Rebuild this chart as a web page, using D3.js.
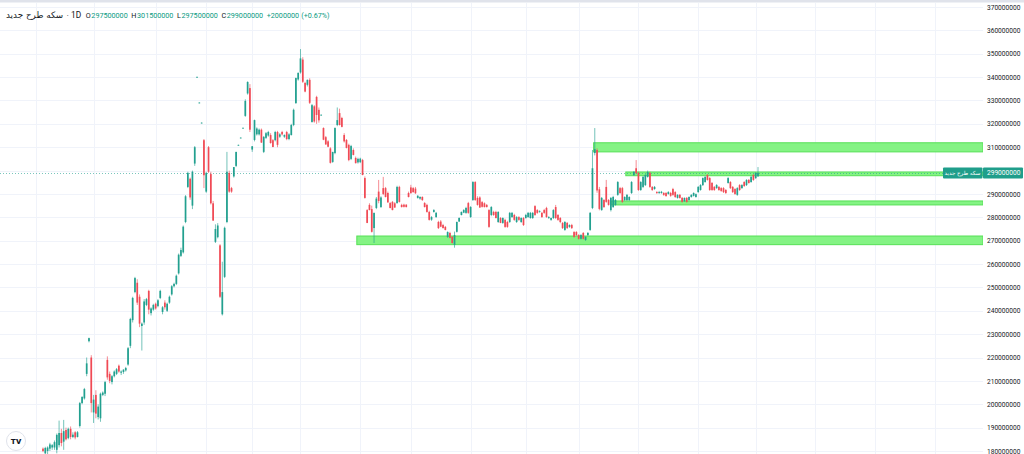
<!DOCTYPE html>
<html><head><meta charset="utf-8">
<script src="https://cdn.jsdelivr.net/npm/d3@7"></script>
<style>
body{margin:0;background:#fff;overflow:hidden}
svg{display:block;font-family:Roboto,"DejaVu Sans",sans-serif}
</style>
</head><body>
<svg id="c" width="1024" height="454"></svg>
<script>
// ---------- data (prices in millions) ----------
const symbolName = "سکه طرح جدید";
const interval = "1D";
const lastBar = {o:"297500000", h:"301500000", l:"297500000", c:"299000000", chg:"+2000000", pct:"(+0.67%)"};

const open = [181,179,180,181,181.5,181.5,180.5,182.5,187.7,184,189,185.5,189.5,186,188,186,190.7,200.5,202.5,213,227,220,196.5,204,194.5,194,204,204.5,219,213,209.5,212,213,216.5,213.5,213.8,214.5,217,225,236,248,252,246,233.5,235,242.5,248.5,239,240.5,243,242,245.5,239.5,243.5,240,243.5,247,250.5,251.5,256,263.5,265,278,293,296.5,285,303,340,329,320.4,313,291,310,298.5,286,269.5,271.5,268,238.5,254.5,278,299,292.5,297.5,302,310.9,314,318.2,323.4,333,335.3,309,313.1,315.5,315.5,317.5,308,314,315,315.2,313,313,316.5,314.5,316.5,314.5,316.5,313.5,315.2,319.5,328.9,339,342,347.5,337.5,336.7,338.8,320.8,327.5,331.5,326,323.8,318.2,314.3,312.5,309.5,303.7,307.5,319.5,324.6,322.5,315.2,313.1,311,305,308.8,305.4,303.5,303.6,304.5,296.8,283.1,285.3,283.5,275.4,284,291,284.4,292.5,292.5,290.4,286.1,286.6,286,286.1,293,285.3,285.4,285.4,290.4,292.8,292.5,292.3,288.3,288,288.7,286.1,285.3,282.3,279,282.3,280.1,278,278.2,276.7,275.9,271.6,273.3,271.6,268.2,273.8,278.2,281,282,281.9,286.1,280.1,287.4,295.1,288.3,288.5,286.5,286,285.3,283.1,281,282.3,282.3,278,279.7,277.6,278.9,278,278,280.1,281,278,280.1,278,279.7,279.7,280.1,279.7,279.7,284.8,283.1,282.3,281.9,283.1,284,279.7,278.9,279.7,284.4,281,279.7,277.6,274.6,277.6,275.9,276.7,273.7,273.7,272.4,270.8,273.3,270.3,272.4,274.6,284,307.5,308.8,292,283.1,287.4,293,287.4,283.1,284.4,285.3,289.6,292.5,292.5,287.4,287.4,287.4,290.4,298.1,301,299,291.7,293,293.8,297.3,299,293,292.1,290.8,290.4,290.4,290.4,290.4,290,290.4,292.1,290.8,288.3,289.6,288.3,286.9,288.3,287.4,288.7,289.2,288.7,290.8,291.7,293.8,295.1,298.1,296.8,294.7,293,292.5,293,292.5,292.5,291.7,294.7,295.1,293,292.1,289.6,293.8,292.5,295.1,293.8,296,295.1,298.1,296.8,297.5];
const high = [181.5,181.8,182,183.5,183,184.5,187.5,193,189.5,193.3,190,190,190.5,188,188.5,188.5,201,203.5,207,220,228.5,221,204,206,200,205,205.5,210,220.5,214,212.5,214.5,215.5,217,214.5,215,216,224.5,237,246,254.5,253.5,247,235,245,245.5,249,241.5,243,243.5,245,249,242,244.5,243.5,246.5,251,252,255.5,264.5,267,276.5,289.5,299.5,297,300,310.5,340.2,329.2,320.6,313.5,299.5,310.5,299.5,287,277,277.5,268.5,261,276,308,300,293,301.5,308,311.1,314.2,318.4,330.5,338.2,337,310.5,321.8,318.5,318,318,314.8,316.5,317,316,313.5,317,317,316,317,315.5,317,316,320,326.5,339.8,342,352,348.5,338,339,339.5,328.5,328,332,327,324,318.5,314.8,313,310,308,318.5,327,326.5,323,316,313.5,311.5,311,309.5,306,305.5,305.5,305,297.5,283.5,286,285,282,288.7,296,289,297.3,293,291,286.6,287,286.5,293.5,293.5,285.8,285.8,285.6,291,293.9,293,293,289.5,289,289,286.5,285.8,282.8,280.5,283.5,282.3,278.5,278.8,277.2,276.3,274,273.8,272,273.9,278.2,280,282.5,283.5,284.5,286.6,284.8,295.5,295.5,289,289,287,286.4,285.7,283.5,284.8,282.8,282.8,282.6,280.1,280,279.4,278.5,282.3,282.3,281.5,280.5,280.5,280,280.1,281.5,282.3,282.3,282.3,285.2,283.5,283,282.3,283.6,284.5,280.5,279.9,283.5,285.3,281.4,280.1,278,278.4,278,277,277.2,274.1,274.1,272.8,272.8,273.7,271.9,273.7,282.3,308.8,318.2,309.5,293,288.7,287.8,296,287.8,288.7,289.2,287.8,295.5,293,293,289,290,289,295.5,299.8,304.5,299.5,295.5,297.7,298.5,300,299.5,293.4,293.4,291.2,291.3,291.3,290.8,290.8,291.2,290.9,292.6,291.2,289.9,290,288.7,288.5,288.7,289,289.9,290.7,290.2,293.4,294.2,297.1,297.6,298.5,297.2,295.1,293.4,294.2,293.4,292.9,292.9,292.1,297.2,295.5,293.4,292.5,292.9,294.2,294.2,295.5,296.3,296.4,297.7,298.5,299.3,301.5];
const low = [179.5,178,178.5,180,180.5,180.5,179,181.5,182,180.5,184.5,185,185,185.5,185,185.8,190,200,202,212,226.5,196.5,192,194,193.5,192.5,203.5,203.5,210.5,209,208.5,211.5,212.5,213.5,212.5,213,214,216.5,224,235,247.5,242.5,233,223,234,242,238.5,238,240,240.5,241.5,245,238.5,240.5,239.5,243,246.5,250,251,255.5,263,264.5,277.5,292.5,287.5,283.5,302,339.8,328.8,320.2,292.5,290.5,299,285.5,278.5,269,271,245.5,238,254,277.5,290.5,290.5,297,301.5,310.7,313.8,318,323,332.5,316.5,308,312.5,315,315,311.8,307.5,313.5,314.5,311.5,310,312.5,310,314,315,314,313,313,315,319,328.5,338.5,341.5,337.5,333.5,336,328.5,320.5,320.5,320,320.5,323.5,313,311,310,303,303.3,307,319,319.3,318.5,312,309.5,304,304.5,306.5,303,303,303.2,298,288,277.5,283,273.5,269,283.5,286,284,289.5,288.5,286.2,283.8,283,284,285.8,286.3,284.2,284.2,284.2,288.5,290,290.5,290,288,287.5,287,284.2,282,278.6,278.5,282,279.8,275,275.8,275.2,274.4,271.2,271,268.8,267,273.5,278,280.8,281.8,281.5,281.5,279.8,287,287,285,284,284.2,284.2,284.2,275.5,280.5,280.6,279.5,277.6,277.5,277.2,275.5,275.5,277.6,279.8,278.5,277.6,278.5,277.6,276.3,279.4,279.8,279.4,279.3,280.6,281.5,282,279.8,281.5,279.8,279.3,278.5,279.3,279.3,278.5,277.5,275,274.2,275,275.5,275,271.3,272,270.5,270.5,270.5,269.9,272,274.2,283.5,306.5,290.5,283,282.8,284,286.2,285,282.5,284,285,289.2,290,286.2,287,287,287,290,297.7,298.5,291.3,291.3,292.5,293.4,297,292.6,291.3,291.8,290,290,290.1,289.2,288.8,289.7,288.8,289.2,288.3,288,288,286.3,286.6,286.3,287.1,288.4,288.9,288.4,290.5,291.4,293.4,294.8,295.7,291.3,291.3,291.3,292.2,291.3,290.9,290.4,290,294.4,292.1,290.4,289.6,289.2,291.3,292.2,293,293.4,294.4,294.8,295.6,296.4,297.5];
const close = [180,181.3,181.5,182.8,182.5,183.8,186.9,187.7,183.4,188.5,185,189.5,186,187,185.8,188,200.5,203.1,206.5,217.5,228.3,200.5,202,196,199,204.5,205,209.5,211.5,210,212,214,215,214,214,214.8,215.5,224,236.5,245.5,254,243.5,234.5,234.5,244,245,240.5,241,242.5,241,244.5,248.5,241.5,241.5,243,246,250.5,251.5,255,264,266,276,289,299,288.5,299.5,310,340.1,329.1,320.5,298,299,299.5,286,278.6,275,276.5,246,248,275.5,299.5,291,291,301.5,308,311,314.1,318.3,329.8,337.9,317.5,310.4,321.6,318,317.5,312,314.4,316,316.5,311.8,310.1,316.5,311,315.5,315.5,315.2,313.5,315.5,319.5,326,339.6,341.8,348,338,333.8,338.8,329,328,321,323.8,321.5,323.9,313.2,311.2,310.2,303.3,308,318.2,321.6,319.5,318.7,312.5,309.7,304.5,310.5,306.7,303.2,305,305.1,298.1,288.3,277.6,283.1,273.8,281.9,288,287,288.5,290,288.7,286.4,284,283.1,284.2,293,286.6,284.4,284.5,284.4,288.7,290.4,290.8,290.3,289.2,288.7,287.4,284.4,282.3,278.9,280.1,283.1,281.9,275.4,276,275.4,274.6,273.7,271.2,269,272.4,278,279.7,282.3,283.1,284,281.9,284.4,295.1,287.4,285.3,284.2,284.5,284.4,284.4,275.9,284.4,281,279.7,282.3,277.6,279.7,275.9,275.9,281.9,281.9,278.9,280.1,278.9,279.7,276.7,281,281.9,281.9,281.9,281,281.9,282.6,280.1,281.9,280.1,280.1,279.7,283.1,279.7,278.9,278,275.4,278,275.4,276.7,275.4,271.6,272.4,270.8,272.4,270.8,271.6,273.3,281.9,301,309.2,291.5,283.6,288.3,284.4,286.6,285.3,288.3,288.7,287.4,295.1,290.4,286.6,288.7,289.6,288.7,295.1,299.4,299,291.7,295.1,297.3,298.1,299.4,293,291.7,293,290.4,290.8,290.9,289.6,289.1,290.8,289.2,289.6,288.7,289.6,288.3,286.6,288.3,286.6,288.7,289.6,290.4,289.9,293,293.8,296.8,297.3,296,291.7,291.7,291.7,293.8,291.7,291.3,290.8,290.4,296.8,292.5,290.8,290,292.5,291.7,293.8,293.4,296,294.7,297.3,296,299,299];

// y axis tick labels (millions) and month boundaries (bar index)
const yTickValues = [180,190,200,210,220,230,240,250,260,270,280,290,300,310,320,330,340,350,360,370];
const monthStarts = [-3,22,49,71,91,112,138,160,186,210,233,259,285,310,336,362,388];

// drawn zones (green rectangles): start bar index, low, high
const zoneStart = [239.5,253.5,247,136.5];
const zoneLow   = [308,297.8,285.3,268.3];
const zoneHigh  = [311.9,299.4,287,272];

// ---------- layout ----------
const W = 1024, H = 454;
const plotRight = 983, plotTop = 3;
const N = close.length;
const bars = d3.range(N).map(i => ({i, o:open[i], h:high[i], l:low[i], c:close[i]}));

const x = d3.scaleLinear().domain([0, N-1]).range([43, 758]);
const y = d3.scaleLinear().domain([180, 370]).range([451, 7]);

const UP = "#22a08f", DOWN = "#f04a55";
const svg = d3.select("#c");

svg.append("rect").attr("width", W).attr("height", H).attr("fill", "#fff");
svg.append("rect").attr("x",0).attr("y",0).attr("width",W).attr("height",2.5).attr("fill","#e0e3eb");

const defs = svg.append("defs");
defs.append("clipPath").attr("id","plot").append("rect")
  .attr("x",0).attr("y",plotTop).attr("width",plotRight).attr("height",H-plotTop);

// grid
const grid = svg.append("g").attr("clip-path","url(#plot)");
grid.selectAll("line.h").data(yTickValues).join("line")
  .attr("x1",0).attr("x2",plotRight)
  .attr("y1",d=>Math.round(y(d))+0.5).attr("y2",d=>Math.round(y(d))+0.5)
  .attr("stroke","#f0f3fa").attr("stroke-width",1);
grid.selectAll("line.v").data(monthStarts).join("line")
  .attr("x1",d=>Math.round(x(d))+0.5).attr("x2",d=>Math.round(x(d))+0.5)
  .attr("y1",plotTop).attr("y2",H)
  .attr("stroke","#f0f3fa").attr("stroke-width",1);

// zones
const zones = zoneStart.map((s,k)=>({s, lo:zoneLow[k], hi:zoneHigh[k]}));
grid.selectAll("rect.zone").data(zones).join("rect")
  .attr("x",d=>x(d.s)).attr("width",d=>plotRight - x(d.s))
  .attr("y",d=>y(d.hi)).attr("height",d=>y(d.lo)-y(d.hi))
  .attr("fill","#84f384").attr("stroke","#56e056").attr("stroke-width",1);

// last price line
const lastClose = close[N-1];
grid.append("line")
  .attr("x1",0).attr("x2",943)
  .attr("y1",Math.round(y(lastClose))+0.5).attr("y2",Math.round(y(lastClose))+0.5)
  .attr("stroke",UP).attr("stroke-opacity",0.6).attr("stroke-dasharray","1,2");

// candles
const cg = svg.append("g").attr("clip-path","url(#plot)");
const col = d => d.c >= d.o ? UP : DOWN;
cg.selectAll("line.wick").data(bars).join("line")
  .attr("x1",d=>x(d.i)).attr("x2",d=>x(d.i))
  .attr("y1",d=>y(d.h)).attr("y2",d=>y(d.l))
  .attr("stroke",col).attr("stroke-width",0.9).attr("stroke-opacity",0.7);
cg.selectAll("rect.body").data(bars).join("rect")
  .attr("x",d=>x(d.i)-0.85).attr("width",1.7)
  .attr("y",d=>y(Math.max(d.o,d.c)))
  .attr("height",d=>Math.max(0.8, Math.abs(y(d.o)-y(d.c))))
  .attr("fill",col);

// right axis
const axis = d3.axisRight(y).tickValues(yTickValues)
  .tickFormat(d => d3.format("d")(d*1e6)).tickSize(0).tickPadding(4);
const ag = svg.append("g").attr("transform",`translate(${plotRight},0)`).call(axis);
ag.select(".domain").remove();
ag.selectAll("text").attr("font-size",6.6).attr("fill","#131722").attr("font-family","Roboto, sans-serif");

// last price labels
const ly = y(lastClose);
const LBL = "#1f9e8b";
svg.append("rect").attr("x",plotRight).attr("y",ly-5.5).attr("width",40).attr("height",11).attr("fill",LBL).attr("rx",1);
svg.append("text").attr("x",plotRight+4).attr("y",ly+2.3).attr("font-size",6.6).attr("fill","#fff")
  .attr("font-family","Roboto, sans-serif").text(lastBar.c);
svg.append("rect").attr("x",943).attr("y",ly-5.5).attr("width",39.5).attr("height",11).attr("fill",LBL).attr("rx",1);
svg.append("text").attr("x",962.5).attr("y",ly+2.2).attr("text-anchor","middle").attr("font-size",5.5).attr("fill","#fff")
  .attr("font-family","'DejaVu Sans', sans-serif").text(symbolName);

// header legend
const hdr = svg.append("g").attr("font-size",7.2);
let cx = 6;
function put(txt, fill, gap, fam, fs){
  const t = hdr.append("text").attr("x",cx).attr("y",17.5).attr("fill",fill).text(txt);
  if (fam) t.attr("font-family",fam);
  if (fs) t.attr("font-size",fs);
  cx += t.node().getComputedTextLength() + gap;
}
put(symbolName, "#131722", 3.5, "'DejaVu Sans', sans-serif", 8.8);
put("·", "#131722", 2.5);
put(interval, "#131722", 4.5, null, 8.4);
[["O",lastBar.o],["H",lastBar.h],["L",lastBar.l],["C",lastBar.c]].forEach(([k,v])=>{
  put(k, "#131722", 0.6);
  put(v, "#089981", 3.6);
});
put(lastBar.chg, "#089981", 2.2);
put(lastBar.pct, "#089981", 0);

// TradingView badge
const lg = svg.append("g").attr("transform","translate(16,441)");
lg.append("circle").attr("r",9.5).attr("fill","#fff").attr("stroke","#e0e3eb");
lg.append("text").attr("text-anchor","middle").attr("y",2.8).attr("font-size",8).attr("font-weight",900)
  .attr("fill","#131722").text("TV");
</script>
</body></html>
